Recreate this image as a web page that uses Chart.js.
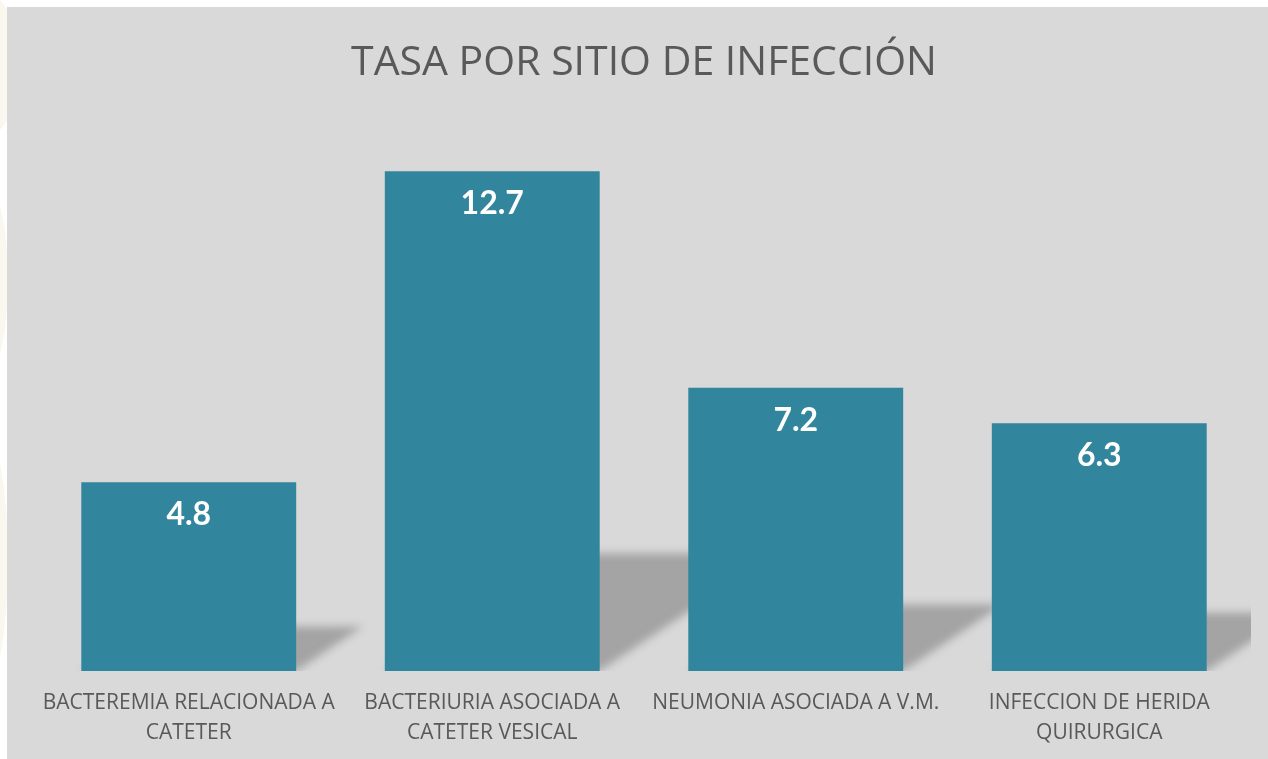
<!DOCTYPE html>
<html>
<head>
<meta charset="utf-8">
<script src="https://cdn.jsdelivr.net/npm/chart.js@4/dist/chart.umd.min.js"></script>
<style>
  html, body { margin: 0; padding: 0; background: #ffffff; width: 1268px; height: 759px; overflow: hidden; }
  #wrap { position: absolute; left: 7px; top: 7px; width: 1261px; height: 752px; background: #d9d9d9; }
  .deco { position: absolute; border-radius: 50%; background: rgba(240, 232, 205, 0.35); }
</style>
</head>
<body>
<div class="deco" style="left:-60px;top:-10px;width:80px;height:150px;"></div>
<div class="deco" style="left:-40px;top:180px;width:48px;height:200px;"></div>
<div class="deco" style="left:-40px;top:430px;width:48px;height:260px;"></div>
<div id="wrap"><canvas id="c" width="1261" height="752"></canvas></div>
<script>
const categories = [
  ["BACTEREMIA RELACIONADA A", "CATETER"],
  ["BACTERIURIA ASOCIADA A", "CATETER VESICAL"],
  ["NEUMONIA ASOCIADA A V.M."],
  ["INFECCION DE HERIDA", "QUIRURGICA"]
];
const rates = [4.8, 12.7, 7.2, 6.3];
const chartTitle = "TASA POR SITIO DE INFECCIÓN";

const barColor = "#31859c";
const textGray = "#595959";

const shadowPlugin = {
  id: "barShadow",
  beforeDatasetsDraw(chart) {
    const ctx = chart.ctx;
    const area = chart.chartArea;
    const meta = chart.getDatasetMeta(0);
    ctx.save();
    ctx.beginPath();
    ctx.rect(area.left, area.top, area.right - area.left, area.bottom - area.top);
    ctx.clip();
    ctx.filter = "blur(4px)";
    ctx.fillStyle = "rgba(150,150,150,0.8)";
    meta.data.forEach(bar => {
      const p = bar.getProps(["x", "y", "base", "width"], true);
      const x0 = p.x - p.width / 2, x1 = p.x + p.width / 2;
      const H = p.base - p.y;
      const h = H * 0.235;
      const dx = h * 1.5;
      ctx.beginPath();
      ctx.moveTo(x0, p.base);
      ctx.lineTo(x1, p.base);
      ctx.lineTo(x1 + dx, p.base - h);
      ctx.lineTo(x0 + dx, p.base - h);
      ctx.closePath();
      ctx.fill();
    });
    ctx.restore();
  }
};

const valueLabelPlugin = {
  id: "valueLabels",
  afterDatasetsDraw(chart) {
    const ctx = chart.ctx;
    const meta = chart.getDatasetMeta(0);
    const data = chart.data.datasets[0].data;
    ctx.save();
    ctx.fillStyle = "#ffffff";
    ctx.font = "bold 32px Lato, 'Open Sans', sans-serif";
    ctx.textAlign = "center";
    ctx.textBaseline = "alphabetic";
    meta.data.forEach((bar, i) => {
      const p = bar.getProps(["x", "y"], true);
      ctx.fillText(data[i].toFixed(1), p.x, p.y + 43);
    });
    ctx.restore();
  }
};

new Chart(document.getElementById("c"), {
  type: "bar",
  data: {
    labels: categories,
    datasets: [{
      data: rates,
      backgroundColor: barColor,
      borderWidth: 0,
      categoryPercentage: 0.708,
      barPercentage: 1.0
    }]
  },
  options: {
    responsive: false,
    animation: false,
    devicePixelRatio: 1,
    layout: { padding: { left: 30, right: 17, top: 0, bottom: 0 } },
    plugins: {
      legend: { display: false },
      tooltip: { enabled: false },
      title: {
        display: true,
        text: chartTitle,
        color: textGray,
        font: { family: "'Open Sans', sans-serif", size: 41, weight: "normal", lineHeight: 1.2 },
        padding: { top: 32, bottom: 32 }
      }
    },
    scales: {
      x: {
        grid: { display: false, drawTicks: false },
        border: { display: false },
        afterFit: (scale) => { scale.height = 88; },
        ticks: {
          color: textGray,
          font: { family: "'Open Sans', sans-serif", size: 21, lineHeight: 1.43 },
          padding: 17,
          maxRotation: 0,
          autoSkip: false
        }
      },
      y: {
        display: false,
        min: 0,
        max: 14
      }
    }
  },
  plugins: [shadowPlugin, valueLabelPlugin]
});
</script>
</body>
</html>
